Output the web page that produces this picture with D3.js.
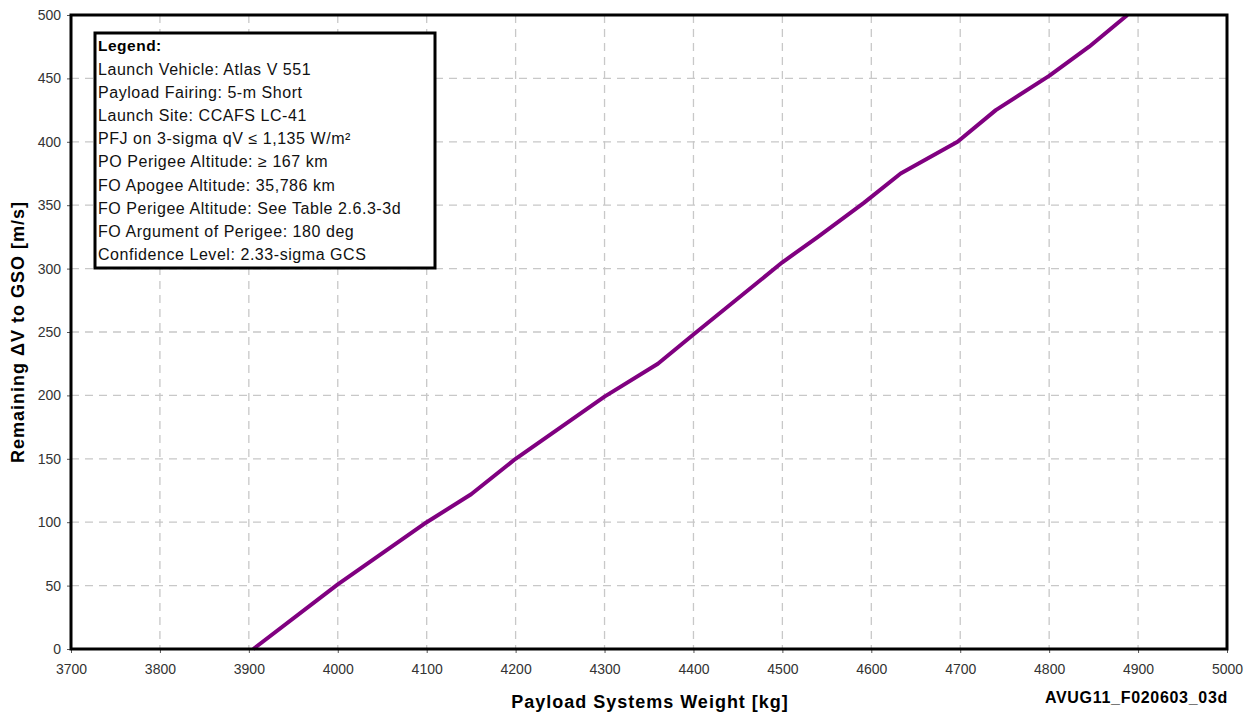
<!DOCTYPE html>
<html><head><meta charset="utf-8">
<script src="https://cdn.jsdelivr.net/npm/d3@7"></script>
<style>body{margin:0;background:#fff;} svg{display:block;font-family:"Liberation Sans",Arial,sans-serif;}</style>
</head><body>
<svg id="c" width="1255" height="717"></svg>
<script>
const weights = [3905, 4000, 4100, 4150, 4200, 4300, 4360, 4400, 4500, 4540, 4592, 4633, 4697, 4740, 4800, 4845, 4888];
const deltaV  = [0, 51, 100, 122, 150, 199, 225, 248, 305, 325, 352, 375, 400, 425, 452, 475, 500];
const xTicks = [3700,3800,3900,4000,4100,4200,4300,4400,4500,4600,4700,4800,4900,5000];
const yTicks = [0,50,100,150,200,250,300,350,400,450,500];
const legendLines = ["Launch Vehicle: Atlas V 551","Payload Fairing: 5-m Short","Launch Site: CCAFS LC-41","PFJ on 3-sigma qV \u2264 1,135 W/m\u00B2","PO Perigee Altitude: \u2265 167 km","FO Apogee Altitude: 35,786 km","FO Perigee Altitude: See Table 2.6.3-3d","FO Argument of Perigee: 180 deg","Confidence Level: 2.33-sigma GCS"];

const svg = d3.select("#c");
const L=71, R=1227, T=15, B=649;
const x = d3.scaleLinear().domain([3700,5000]).range([L,R]);
const y = d3.scaleLinear().domain([0,500]).range([B,T]);

// grid
svg.append("g").selectAll("line").data(xTicks.slice(1,-1)).join("line")
  .attr("x1",d=>x(d)).attr("x2",d=>x(d)).attr("y1",T).attr("y2",B)
  .attr("stroke","#c8c8c8").attr("stroke-width",1.3).attr("stroke-dasharray","8,6");
svg.append("g").selectAll("line").data(yTicks.slice(1,-1)).join("line")
  .attr("y1",d=>y(d)).attr("y2",d=>y(d)).attr("x1",L).attr("x2",R)
  .attr("stroke","#c8c8c8").attr("stroke-width",1.3).attr("stroke-dasharray","8,6");

// axes
const xAx = svg.append("g").attr("transform",`translate(0,${B})`)
  .call(d3.axisBottom(x).tickValues(xTicks).tickFormat(d3.format("d")).tickSize(4).tickPadding(11));
const yAx = svg.append("g").attr("transform",`translate(${L},0)`)
  .call(d3.axisLeft(y).tickValues(yTicks).tickFormat(d3.format("d")).tickSize(4).tickPadding(6));
[xAx,yAx].forEach(g=>{
  g.select(".domain").remove();
  g.selectAll("line").attr("stroke","#555");
  g.selectAll("text").attr("font-size",14).attr("fill","#333").attr("font-family","Liberation Sans, Arial, sans-serif");
});

// line
svg.append("path").datum(weights.map((w,i)=>[w,deltaV[i]]))
  .attr("d", d3.line().x(d=>x(d[0])).y(d=>y(d[1])))
  .attr("fill","none").attr("stroke","#800080").attr("stroke-width",4).attr("stroke-linejoin","round");

// frame
svg.append("rect").attr("x",L).attr("y",T).attr("width",R-L).attr("height",B-T)
  .attr("fill","none").attr("stroke","#000").attr("stroke-width",3);

// legend
const lg = svg.append("g");
lg.append("rect").attr("x",95).attr("y",33).attr("width",340).attr("height",235)
  .attr("fill","#fff").attr("stroke","#000").attr("stroke-width",3);
lg.append("text").attr("x",98).attr("y",51).attr("font-size",15.5).attr("font-weight","bold").attr("letter-spacing",0.5).text("Legend:");
lg.selectAll("text.l").data(legendLines).join("text").attr("class","l")
  .attr("x",98).attr("y",(d,i)=>75+i*23.1).attr("font-size",16).attr("letter-spacing",0.55).attr("fill","#111").text(d=>d);

// titles
svg.append("text").attr("x",650).attr("y",708).attr("text-anchor","middle")
  .attr("font-size",18).attr("letter-spacing",1).attr("font-weight","bold").text("Payload Systems Weight [kg]");
svg.append("text").attr("x",1228).attr("y",703).attr("text-anchor","end")
  .attr("font-size",16).attr("letter-spacing",0.7).attr("font-weight","bold").text("AVUG11_F020603_03d");
svg.append("text").attr("transform","translate(24,332) rotate(-90)").attr("text-anchor","middle")
  .attr("font-size",18).attr("letter-spacing",1).attr("font-weight","bold").text("Remaining \u0394V to GSO [m/s]");
</script>
</body></html>
